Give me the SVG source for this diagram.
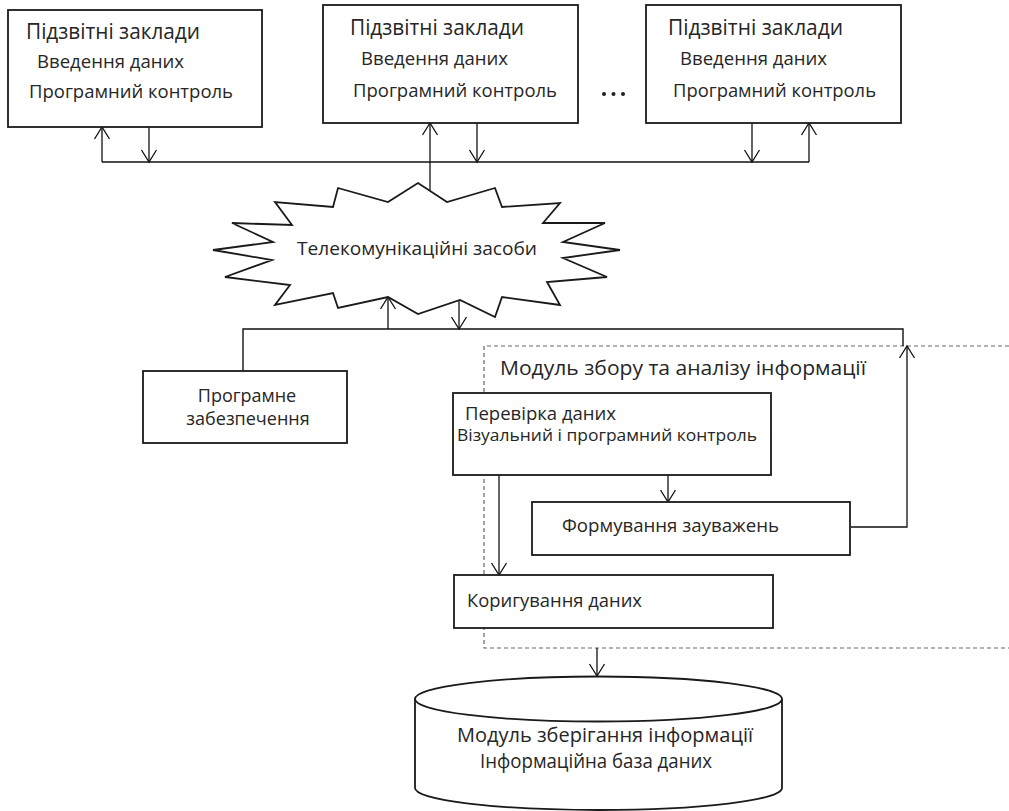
<svg xmlns="http://www.w3.org/2000/svg" width="1009" height="811" viewBox="0 0 1009 811">
<defs>
<marker id="arr" viewBox="0 0 16 18" markerWidth="16" markerHeight="18" refX="14" refY="9" orient="auto" markerUnits="userSpaceOnUse">
<path d="M2,1.5 L14,9 L2,16.5" fill="none" stroke="#111" stroke-width="1.3"/>
</marker>
</defs>
<style>
.box{fill:#fff;stroke:#1a1a1a;stroke-width:1.8}
.t{font-family:"Open Sans","Noto Sans","DejaVu Sans",sans-serif;fill:#262626}
.c{fill:none;stroke:#111;stroke-width:1.4}
.a{fill:none;stroke:#111;stroke-width:1.3;marker-end:url(#arr)}
.dash{fill:none;stroke:#666;stroke-width:1.2;stroke-dasharray:4 3}
</style>
<rect width="1009" height="811" fill="#fff"/>

<g id="module-frame">
<path class="dash" d="M1009,346 H484 V648 H1009"/>
<text class="t" x="500" y="375" font-size="20" textLength="366" lengthAdjust="spacingAndGlyphs">Модуль збору та аналізу інформації</text>
</g>

<g id="connectors">
<line class="c" x1="102" y1="162" x2="809" y2="162"/>
<line class="a" x1="102" y1="162" x2="102" y2="127"/>
<line class="a" x1="149" y1="127" x2="149" y2="162"/>
<line class="a" x1="430" y1="190" x2="430" y2="123"/>
<line class="a" x1="477" y1="123" x2="477" y2="162"/>
<line class="a" x1="752" y1="123" x2="752" y2="162"/>
<line class="a" x1="809" y1="162" x2="809" y2="123"/>
<line class="a" x1="388" y1="329" x2="388" y2="297"/>
<line class="a" x1="459" y1="300" x2="459" y2="329"/>
<path class="c" d="M243,371 V329 H903 V346"/>
<path class="a" d="M851,527 H907 V346"/>
<line class="a" x1="499" y1="475" x2="499" y2="575"/>
<line class="a" x1="668" y1="475" x2="668" y2="502"/>
<line class="a" x1="597" y1="648" x2="597" y2="676"/>
</g>

<g id="node-1">
<rect class="box" x="8" y="10" width="254" height="117"/>
<text class="t" x="26" y="39" font-size="21" textLength="174" lengthAdjust="spacingAndGlyphs">Підзвітні заклади</text>
<text class="t" x="37" y="68" font-size="18.5" textLength="147" lengthAdjust="spacingAndGlyphs">Введення даних</text>
<text class="t" x="29" y="98" font-size="18.5" textLength="204" lengthAdjust="spacingAndGlyphs">Програмний контроль</text>
</g>

<g id="node-2">
<rect class="box" x="323" y="5" width="255" height="118"/>
<text class="t" x="350" y="35" font-size="21" textLength="174" lengthAdjust="spacingAndGlyphs">Підзвітні заклади</text>
<text class="t" x="361" y="65" font-size="18.5" textLength="147" lengthAdjust="spacingAndGlyphs">Введення даних</text>
<text class="t" x="353" y="97" font-size="18.5" textLength="204" lengthAdjust="spacingAndGlyphs">Програмний контроль</text>
</g>

<g id="ellipsis">
<circle cx="604" cy="94" r="2" fill="#1f1f1f"/>
<circle cx="613.5" cy="94" r="2" fill="#1f1f1f"/>
<circle cx="623" cy="94" r="2" fill="#1f1f1f"/>
</g>

<g id="node-3">
<rect class="box" x="646" y="5" width="255" height="118"/>
<text class="t" x="668" y="35" font-size="21" textLength="175" lengthAdjust="spacingAndGlyphs">Підзвітні заклади</text>
<text class="t" x="680" y="65" font-size="18.5" textLength="147" lengthAdjust="spacingAndGlyphs">Введення даних</text>
<text class="t" x="673" y="97" font-size="18.5" textLength="203" lengthAdjust="spacingAndGlyphs">Програмний контроль</text>
</g>

<g id="telecom">
<polygon class="box" points="338,188 388,202 418,183 447,202 495,188 502,207 560,203 543,223 605,223 563,242 620,250 563,258 607,277 547,282 560,305 502,297 495,317 460,300 418,314 388,297 338,308 333,293 275,305 290,285 225,277 272,260 213,250 273,242 232,223 292,225 275,202 333,207"/>
<text class="t" x="297" y="255" font-size="18" textLength="240" lengthAdjust="spacingAndGlyphs">Телекомунікаційні засоби</text>
</g>

<g id="software">
<rect class="box" x="143" y="371" width="204" height="72"/>
<text class="t" x="247" y="402" font-size="18" text-anchor="middle">Програмне</text>
<text class="t" x="248" y="425" font-size="18" text-anchor="middle">забезпечення</text>
</g>

<g id="check">
<rect class="box" x="453" y="393" width="318" height="82"/>
<text class="t" x="465" y="420" font-size="18.5" textLength="151" lengthAdjust="spacingAndGlyphs">Перевірка даних</text>
<text class="t" x="457" y="441" font-size="16.5" textLength="300" lengthAdjust="spacingAndGlyphs">Візуальний і програмний контроль</text>
</g>

<g id="remarks">
<rect class="box" x="532" y="502" width="318" height="53"/>
<text class="t" x="562" y="532" font-size="18.5" textLength="217" lengthAdjust="spacingAndGlyphs">Формування зауважень</text>
</g>

<g id="correct">
<rect class="box" x="454" y="575" width="319" height="53"/>
<text class="t" x="467" y="607" font-size="18.5" textLength="175" lengthAdjust="spacingAndGlyphs">Коригування даних</text>
</g>

<g id="database">
<path class="box" d="M415,699 V788 A183.5,22 0 0 0 782,788 V699"/>
<ellipse class="box" cx="598.5" cy="699" rx="183.5" ry="22.5"/>
<text class="t" x="457" y="742" font-size="20" textLength="296" lengthAdjust="spacingAndGlyphs">Модуль зберігання інформації</text>
<text class="t" x="480" y="768" font-size="20" textLength="232" lengthAdjust="spacingAndGlyphs">Інформаційна база даних</text>
</g>
</svg>
